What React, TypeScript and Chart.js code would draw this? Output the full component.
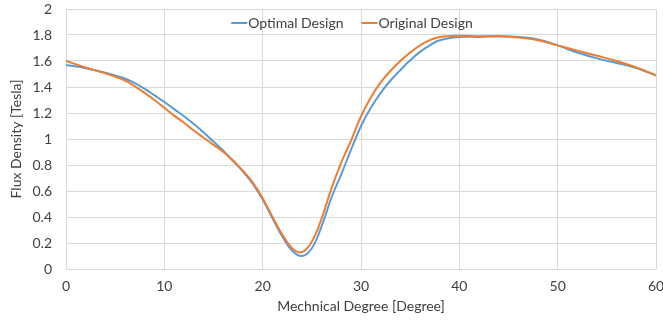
import React, { useEffect, useRef } from "react";
import { Chart, registerables } from "chart.js";
Chart.register(...registerables);

const degrees = [0, 2, 4, 6, 7, 8, 9, 10, 11, 12, 13, 14, 15, 16, 17, 18, 19, 20, 21, 22, 23, 24, 25, 26, 27, 28, 29, 30, 31, 32, 33, 34, 35, 36, 37, 38, 40, 42, 44, 46, 48, 50, 52, 54, 56, 58, 60];
const optimalDesign = [1.57, 1.545, 1.51, 1.465, 1.43, 1.385, 1.335, 1.285, 1.23, 1.175, 1.115, 1.05, 0.98, 0.91, 0.83, 0.75, 0.655, 0.535, 0.39, 0.25, 0.14, 0.1, 0.16, 0.33, 0.55, 0.73, 0.92, 1.1, 1.24, 1.355, 1.45, 1.53, 1.605, 1.67, 1.72, 1.76, 1.785, 1.785, 1.79, 1.785, 1.765, 1.72, 1.665, 1.62, 1.585, 1.545, 1.49];
const originalDesign = [1.6, 1.55, 1.505, 1.45, 1.405, 1.355, 1.3, 1.24, 1.18, 1.125, 1.065, 1.01, 0.955, 0.9, 0.835, 0.755, 0.665, 0.545, 0.4, 0.265, 0.16, 0.13, 0.21, 0.39, 0.62, 0.82, 0.99, 1.175, 1.32, 1.435, 1.525, 1.6, 1.665, 1.72, 1.76, 1.785, 1.795, 1.79, 1.79, 1.78, 1.76, 1.72, 1.68, 1.64, 1.6, 1.55, 1.49];
const seriesLabels = ["Optimal Design", "Original Design"];
const xTitle = "Mechnical Degree [Degree]";
const yTitle = "Flux Density [Tesla]";

const FONT = "Lato, 'Open Sans', sans-serif";
const TEXT = "#404040";
const BLUE = "#5B9BD5";
const ORANGE = "#ED7D31";

export default function App() {
  const ref = useRef<HTMLCanvasElement>(null);
  useEffect(() => {
    document.body.style.margin = "0";
    const legendPlugin = {
      id: "customLegend",
      afterDraw(chart: any) {
        const ctx = chart.ctx;
        ctx.save();
        ctx.font = `14px ${FONT}`;
        ctx.textBaseline = "middle";
        ctx.textAlign = "left";
        const items = chart.data.datasets.map((d: any) => ({ label: d.label, color: d.borderColor }));
        const lineW = 16, gap = 1, itemGap = 18;
        const widths = items.map((it: any) => lineW + gap + ctx.measureText(it.label).width);
        const total = widths.reduce((a: number, b: number) => a + b, 0) + itemGap * (items.length - 1);
        let x = 352 - total / 2;
        const y = 23;
        items.forEach((it: any, i: number) => {
          ctx.strokeStyle = it.color;
          ctx.lineWidth = 2;
          ctx.beginPath();
          ctx.moveTo(x, y);
          ctx.lineTo(x + lineW, y);
          ctx.stroke();
          ctx.fillStyle = TEXT;
          ctx.fillText(it.label, x + lineW + gap, y);
          x += widths[i] + itemGap;
        });
        ctx.restore();
      },
    };
    const chart = new Chart(ref.current!, {
      type: "line",
      data: {
        datasets: [
          {
            label: seriesLabels[0],
            data: degrees.map((d, i) => ({ x: d, y: optimalDesign[i] })),
            borderColor: BLUE,
            backgroundColor: BLUE,
            borderWidth: 2,
            pointRadius: 0,
            tension: 0.4,
            order: 1,
          },
          {
            label: seriesLabels[1],
            data: degrees.map((d, i) => ({ x: d, y: originalDesign[i] })),
            borderColor: ORANGE,
            backgroundColor: ORANGE,
            borderWidth: 2,
            pointRadius: 0,
            tension: 0.4,
            order: 0,
          },
        ],
      },
      options: {
        responsive: false,
        animation: false,
        layout: { padding: 0 },
        plugins: { legend: { display: false }, tooltip: { enabled: false } },
        scales: {
          x: {
            type: "linear",
            min: 0,
            max: 60,
            ticks: { stepSize: 10, color: TEXT, font: { family: FONT, size: 14 }, padding: 9, maxRotation: 0 },
            grid: { color: "#d9d9d9", drawTicks: false },
            border: { display: false },
            title: { display: true, text: xTitle, color: TEXT, font: { family: FONT, size: 14 }, padding: { top: 0, bottom: 9 } },
            afterFit: (s: any) => { s.height = 55; s.paddingLeft = 0; s.paddingRight = 7; },
          },
          y: {
            min: 0,
            max: 2,
            ticks: {
              stepSize: 0.2,
              color: TEXT,
              font: { family: FONT, size: 14 },
              padding: 14,
              callback: (v: any) => String(parseFloat(Number(v).toFixed(1))),
            },
            grid: { color: "#d9d9d9", drawTicks: false },
            border: { display: false },
            title: { display: true, text: yTitle, color: TEXT, font: { family: FONT, size: 14 }, padding: { top: 8, bottom: 0 } },
            afterFit: (s: any) => { s.width = 66; s.paddingTop = 9; s.paddingBottom = 0; },
          },
        },
      },
      plugins: [legendPlugin],
    });
    return () => chart.destroy();
  }, []);
  return <canvas ref={ref} width={663} height={324} />;
}
